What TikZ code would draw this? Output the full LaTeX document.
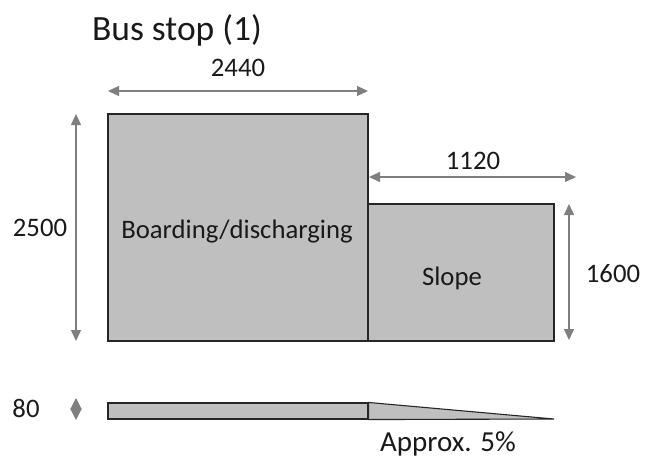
\documentclass[tikz,border=0pt]{standalone}
\usepackage{fontspec}
\setmainfont{Carlito}
\usetikzlibrary{arrows.meta}
\definecolor{platecolor}{RGB}{191,191,191}
\definecolor{dimcolor}{RGB}{127,127,127}
\tikzset{
  plate/.style={draw=black!85,fill=platecolor,line width=1.1pt,inner sep=0pt},
  dimline/.style={draw=dimcolor,line width=1.1pt,{Triangle[length=11pt,width=10pt]}-{Triangle[length=11pt,width=10pt]},shorten <=0pt,shorten >=0pt},
  dimtext/.style={font=\fontsize{26.7}{30}\selectfont,inner sep=0pt,text=black!90},
  bigtext/.style={font=\fontsize{35.5}{40}\selectfont,inner sep=0pt,text=black!90}
}
\begin{document}
\begin{tikzpicture}[x=1pt,y=-1pt]
\useasboundingbox (0,0) rectangle (646,459);

\node[bigtext] (title) at (177,30) {Bus stop (1)};

\node[plate,minimum width=260pt,minimum height=227pt] (board) at (238,227.5) {};
\node[plate,minimum width=186pt,minimum height=137pt] (slope) at (461,272.5) {};
\node[dimtext] (boardtext) at (237,232) {Boarding/discharging};
\node[dimtext] (slopetext) at (452,278) {Slope};

% dimensions
\coordinate (w1a) at (108,91);
\coordinate (w1b) at (368,91);
\draw[dimline] (w1a) -- (w1b);
\node[dimtext] (w1) at (238,68) {2440};
\coordinate (h1a) at (76,114);
\coordinate (h1b) at (76,341);
\draw[dimline] (h1a) -- (h1b);
\node[dimtext] (h1) at (40,228) {2500};
\coordinate (w2a) at (369,177);
\coordinate (w2b) at (576,177);
\draw[dimline] (w2a) -- (w2b);
\node[dimtext] (w2) at (473,161) {1120};
\coordinate (h2a) at (569,204);
\coordinate (h2b) at (569,340);
\draw[dimline] (h2a) -- (h2b);
\node[dimtext] (h2) at (613,274) {1600};

% side view
\node[plate,minimum width=260pt,minimum height=16pt] (side) at (238,411) {};
\coordinate (rampend) at (554,419);
\draw[plate] (side.north east) -- (rampend) -- (side.south east) -- cycle;
\node[dimtext] (h3) at (26,408) {80};
\coordinate (h3a) at (76,398);
\coordinate (h3b) at (76,420);
\draw[draw=dimcolor,line width=1.1pt,{Triangle[length=11pt,width=11pt]}-{Triangle[length=11pt,width=11pt]}] (h3a) -- (h3b);
\node[dimtext,font=\fontsize{29}{32}\selectfont] (approx) at (448,444) {Approx. 5\%};
\end{tikzpicture}
\end{document}
